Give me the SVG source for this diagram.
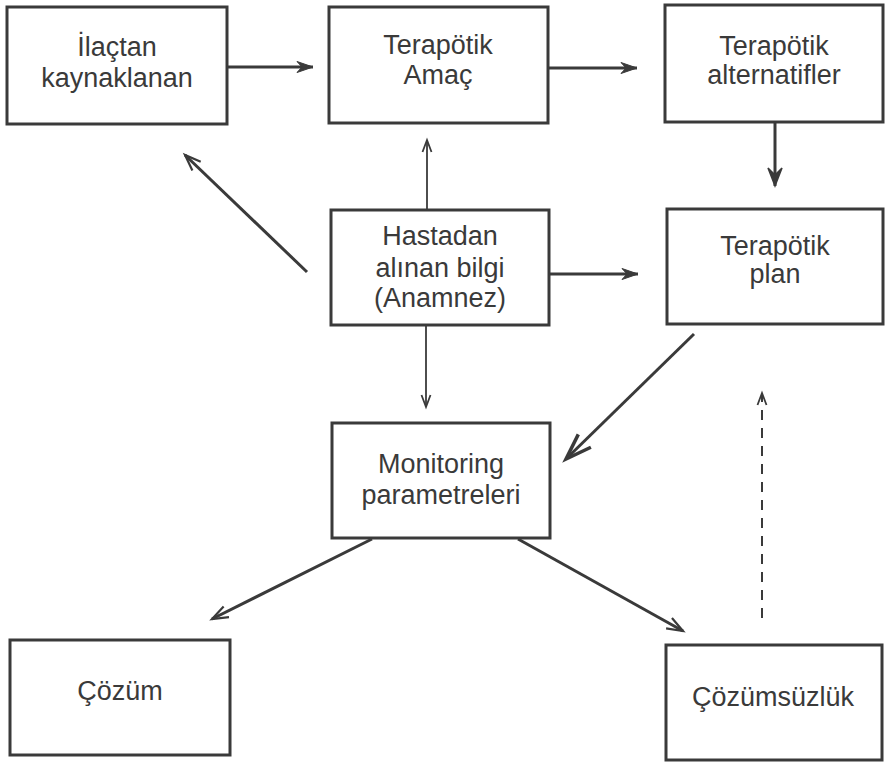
<svg xmlns="http://www.w3.org/2000/svg" width="885" height="762" viewBox="0 0 885 762">
  <style>
    .box { fill: #ffffff; stroke: #3a3a3a; stroke-width: 3; }
    .lbl { font-family: "Liberation Sans", Arial, Helvetica, sans-serif; font-size: 27px; fill: #3a3a3a; text-anchor: middle; }
    .thick { stroke: #3a3a3a; stroke-width: 3; fill: none; }
    .thin { stroke: #3a3a3a; stroke-width: 1.8; fill: none; }
    .dash { stroke: #3a3a3a; stroke-width: 2; fill: none; stroke-dasharray: 10 8; }
  </style>
  <defs>
    <marker id="headFill" markerUnits="userSpaceOnUse" orient="auto" overflow="visible" markerWidth="20" markerHeight="14" refX="0" refY="0">
      <path d="M0,0 L-16,-5.5 L-11,0 L-16,5.5 Z" fill="#3a3a3a" stroke="#3a3a3a" stroke-width="1"/>
    </marker>
    <marker id="headBig" markerUnits="userSpaceOnUse" orient="auto" overflow="visible" markerWidth="20" markerHeight="16" refX="0" refY="0">
      <path d="M0,0 L-18,-7 L-11,0 L-18,7 Z" fill="#3a3a3a" stroke="#3a3a3a" stroke-width="1.5"/>
    </marker>
    <marker id="headOpen" markerUnits="userSpaceOnUse" orient="auto" overflow="visible" markerWidth="14" markerHeight="12" refX="0" refY="0">
      <path d="M-12,-4.5 L0,0 L-12,4.5" fill="none" stroke="#3a3a3a" stroke-width="1.8"/>
    </marker>
    <marker id="headOpenThick" markerUnits="userSpaceOnUse" orient="auto" overflow="visible" markerWidth="18" markerHeight="14" refX="0" refY="0">
      <path d="M-16,-6 L0,0 L-16,6" fill="none" stroke="#3a3a3a" stroke-width="2.2"/>
    </marker>
    <marker id="headV" markerUnits="userSpaceOnUse" orient="auto" overflow="visible" markerWidth="30" markerHeight="20" refX="0" refY="0">
      <path d="M-26,-9 L0,0 L-26,9" fill="none" stroke="#3a3a3a" stroke-width="3.5"/>
    </marker>
  </defs>

  <g id="connectors">
    <line class="thick" x1="227" y1="67" x2="313" y2="67" marker-end="url(#headFill)"/>
    <line class="thick" x1="548" y1="68" x2="637" y2="68" marker-end="url(#headFill)"/>
    <line class="thick" x1="775" y1="122" x2="775" y2="186" marker-end="url(#headBig)"/>
    <line class="thin" x1="427" y1="210" x2="427" y2="140" marker-end="url(#headOpen)"/>
    <line class="thick" x1="307" y1="272" x2="185" y2="155" marker-end="url(#headOpenThick)"/>
    <line class="thick" x1="549" y1="274" x2="638" y2="274" marker-end="url(#headFill)"/>
    <line class="thin" x1="426" y1="325" x2="426" y2="407" marker-end="url(#headOpen)"/>
    <line class="thick" x1="694" y1="334" x2="566" y2="459" marker-end="url(#headV)"/>
    <line class="thick" x1="372" y1="539" x2="212" y2="619" marker-end="url(#headOpenThick)"/>
    <line class="thick" x1="518" y1="539" x2="683" y2="631" marker-end="url(#headOpenThick)"/>
    <line class="dash" x1="762" y1="618" x2="762" y2="393" marker-end="url(#headOpen)"/>
  </g>

  <g id="ilactan">
    <rect class="box" x="7" y="7" width="220" height="117"/>
    <text class="lbl" x="117" y="56">İlaçtan</text>
    <text class="lbl" x="117" y="87">kaynaklanan</text>
  </g>
  <g id="amac">
    <rect class="box" x="329" y="7" width="219" height="116"/>
    <text class="lbl" x="438" y="54">Terapötik</text>
    <text class="lbl" x="438" y="84">Amaç</text>
  </g>
  <g id="alternatifler">
    <rect class="box" x="665" y="5" width="218" height="117"/>
    <text class="lbl" x="774" y="55">Terapötik</text>
    <text class="lbl" x="774" y="84">alternatifler</text>
  </g>
  <g id="hastadan">
    <rect class="box" x="331" y="210" width="218" height="115"/>
    <text class="lbl" x="440" y="245">Hastadan</text>
    <text class="lbl" x="440" y="277">alınan bilgi</text>
    <text class="lbl" x="440" y="307">(Anamnez)</text>
  </g>
  <g id="plan">
    <rect class="box" x="667" y="209" width="216" height="115"/>
    <text class="lbl" x="775" y="255">Terapötik</text>
    <text class="lbl" x="775" y="283">plan</text>
  </g>
  <g id="monitoring">
    <rect class="box" x="332" y="423" width="218" height="115"/>
    <text class="lbl" x="441" y="473">Monitoring</text>
    <text class="lbl" x="441" y="504">parametreleri</text>
  </g>
  <g id="cozum">
    <rect class="box" x="10" y="640" width="220" height="115"/>
    <text class="lbl" x="120" y="700">Çözüm</text>
  </g>
  <g id="cozumsuzluk">
    <rect class="box" x="666" y="645" width="216" height="115"/>
    <text class="lbl" x="773" y="706">Çözümsüzlük</text>
  </g>
</svg>
